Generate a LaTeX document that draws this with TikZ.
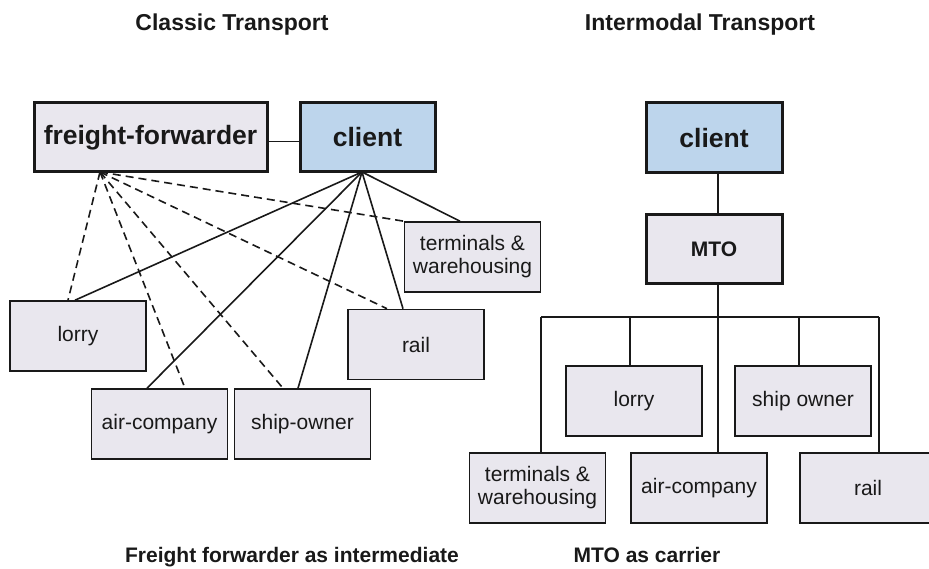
\documentclass[tikz,border=0pt]{standalone}
\usepackage{fontspec}
\setmainfont{Liberation Sans}
\usetikzlibrary{positioning}
\definecolor{boxfill}{RGB}{233,231,238}
\definecolor{clientfill}{RGB}{189,213,236}
\definecolor{ink}{RGB}{25,25,25}
\tikzset{
  unitbox/.style={draw=ink, fill=boxfill, line width=1.6pt, inner sep=0pt,
    minimum width=136pt, minimum height=70pt, align=center, text=ink,
    font=\fontsize{21}{23}\selectfont},
  keybox/.style={unitbox, line width=3pt, font=\bfseries\fontsize{26.5}{28}\selectfont},
  clientbox/.style={keybox, fill=clientfill},
  title/.style={anchor=base, text=ink, inner sep=0pt, font=\bfseries\fontsize{23}{25}\selectfont},
  caption/.style={anchor=base, text=ink, inner sep=0pt, font=\bfseries\fontsize{21}{23}\selectfont},
  link/.style={draw=ink, line width=1.6pt},
  hint/.style={link, dash pattern=on 8pt off 5pt}
}
\begin{document}
\begin{tikzpicture}[x=1pt, y=-1pt]
\useasboundingbox (0,0) rectangle (929,569);

% headings
\node[title] (t1) at (232,31) {Classic Transport};
\node[title] (t2) at (700,31) {Intermodal Transport};
\node[caption] (c1) at (292,562) {Freight forwarder as intermediate};
\node[caption] (c2) at (647,562) {MTO as carrier};

% ---- classic transport ----
\node[keybox, minimum width=233pt, minimum height=69pt] (ff) at (150.5,137.5) {freight-forwarder};
\node[clientbox, minimum width=135pt, minimum height=69pt] (clL) at (367.5,137.5) {client};
\node[unitbox] (termL) at (472.5,257) {terminals \&\\warehousing};
\node[unitbox] (lorryL) at (78,336) {lorry};
\node[unitbox] (railL) at (416,344.5) {rail};
\node[unitbox] (airL) at (159.5,424) {air-company};
\node[unitbox] (shipL) at (302.5,424) {ship-owner};

\coordinate (hubF) at (100,172);
\coordinate (hubC) at (362,172);

\draw[link] ([yshift=-4pt]ff.east) -- ([yshift=-4pt]clL.west);

% forwarder arranges the carriers
\draw[hint] (hubF) -- ([xshift=-10pt]lorryL.north);
\draw[hint] (hubF) -- ([xshift=25.5pt]airL.north);
\draw[hint] (hubF) -- ([xshift=-19.5pt]shipL.north);
\draw[hint] (hubF) -- ([xshift=-29pt]railL.north);
\draw[hint] (hubF) -- (termL.north west);

% client contracts each carrier
\draw[link] (hubC) -- ([xshift=-3pt]lorryL.north);
\draw[link] (hubC) -- ([xshift=-12.5pt]airL.north);
\draw[link] (hubC) -- ([xshift=-4.5pt]shipL.north);
\draw[link] (hubC) -- ([xshift=-13pt]railL.north);
\draw[link] (hubC) -- ([xshift=-12.5pt]termL.north);

% ---- intermodal transport ----
\node[clientbox] (clR) at (714,138) {client};
\node[keybox, font=\bfseries\fontsize{21}{23}\selectfont, minimum height=69pt] (mto) at (714,249.5) {MTO};
\node[unitbox] (lorryR) at (634,401) {lorry};
\node[unitbox] (shipR) at (803,401) {ship owner};
\node[unitbox] (termR) at (537.5,488) {terminals \&\\warehousing};
\node[unitbox] (airR) at (699,488) {air-company};
\node[unitbox] (railR) at (868,488) {rail};

\coordinate (busL) at (541,317);
\coordinate (busR) at (879,317);

\draw[link] ([xshift=4pt]clR.south) -- ([xshift=4pt]mto.north);
\draw[link] ([xshift=4pt]mto.south) -- ([xshift=4pt]mto.south |- busL);
\draw[link] (busL) -- (busR);
\draw[link] (busL) -- (busL |- termR.north);
\draw[link] ([xshift=-4pt]lorryR.north) -- ([xshift=-4pt]lorryR.north |- busL);
\draw[link] ([xshift=19pt]airR.north) -- ([xshift=19pt]airR.north |- busL);
\draw[link] ([xshift=-4pt]shipR.north) -- ([xshift=-4pt]shipR.north |- busL);
\draw[link] (busR) -- (busR |- railR.north);
\end{tikzpicture}
\end{document}
